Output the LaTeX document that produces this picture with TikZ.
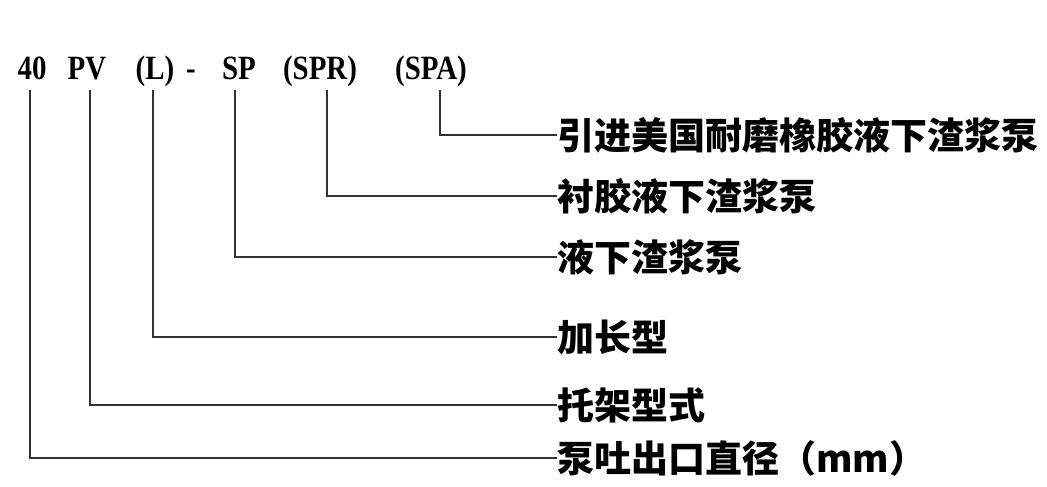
\documentclass[tikz,border=0pt]{standalone}
\usepackage{fontspec}
\newfontfamily\codefont{Liberation Serif}[FakeStretch=0.85]
\newfontfamily\cjkfont{Noto Sans CJK SC}
\usetikzlibrary{positioning}

\begin{document}
\begin{tikzpicture}[x=1pt,y=1pt,
    code/.style={font=\codefont\bfseries\fontsize{34}{40}\selectfont, inner sep=0pt, anchor=base},
    label/.style={font=\cjkfont\bfseries\fontsize{37}{40}\selectfont, inner sep=0pt, anchor=west},
    lead/.style={line width=1.2pt, draw=black!80}]
    \useasboundingbox (0,0) rectangle (1047,487);

    % model code
    \node[code] (dia) at (32,407) {40};
    \node[code] (frame) at (87,407) {PV};
    \node[code] (long) at (155,407) {(L)};
    \node[code] (dash) at (191,407) {-};
    \node[code] (sp) at (239,407) {SP};
    \node[code] (spr) at (320,407) {(SPR)};
    \node[code] (spa) at (431,407) {(SPA)};

    % meanings
    \node[label] (lspa) at (557,352) {引进美国耐磨橡胶液下渣浆泵};
    \node[label] (lspr) at (557,291) {衬胶液下渣浆泵};
    \node[label] (lsp) at (557,230) {液下渣浆泵};
    \node[label] (llong) at (557,150) {加长型};
    \node[label] (lframe) at (557,82) {托架型式};
    \node[label] (ldia) at (557,29) {泵吐出口直径（mm）};

    \draw[lead] ([xshift=9pt,yshift=-10pt]spa.base) |- (lspa.west);
    \draw[lead] ([xshift=7pt,yshift=-10pt]spr.base) |- (lspr.west);
    \draw[lead] ([xshift=-4pt,yshift=-10pt]sp.base) |- (lsp.west);
    \draw[lead] ([xshift=-2pt,yshift=-10pt]long.base) |- (llong.west);
    \draw[lead] ([xshift=3pt,yshift=-10pt]frame.base) |- (lframe.west);
    \draw[lead] ([xshift=-2pt,yshift=-10pt]dia.base) |- (ldia.west);
  \end{tikzpicture}
\end{document}
